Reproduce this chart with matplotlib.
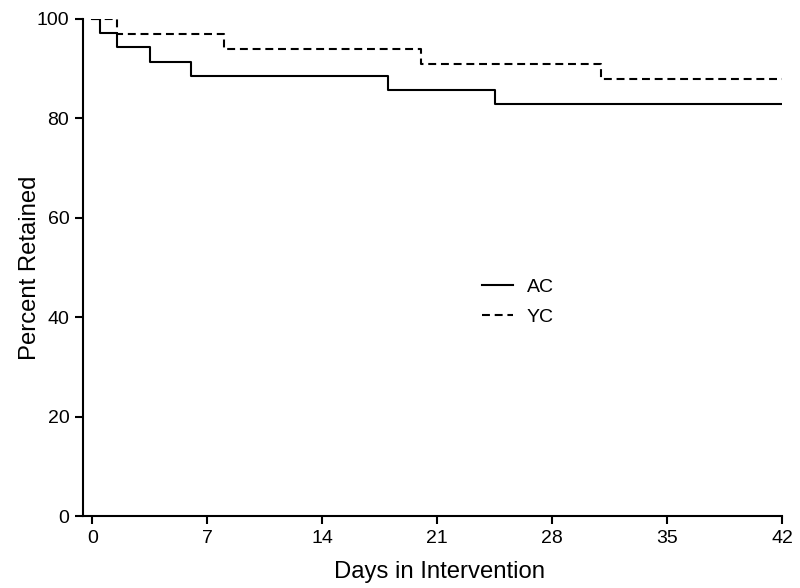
import matplotlib
matplotlib.use("Agg")
import matplotlib.pyplot as plt

plt.rcParams['font.family'] = ['Liberation Sans', 'DejaVu Sans']

# Data
ac_days = [0, 0.5, 1.5, 3.5, 6, 18, 24.5, 42]
ac_pct = [100, 97.1, 94.3, 91.4, 88.6, 85.7, 82.9, 82.9]
yc_days = [0, 1.5, 8, 20, 31, 42]
yc_pct = [100, 97.0, 93.9, 90.9, 87.9, 87.9]
xticks = [0, 7, 14, 21, 28, 35, 42]
yticks = [0, 20, 40, 60, 80, 100]

fig = plt.figure(figsize=(8, 5.88), dpi=100)
ax = fig.add_axes([0.104, 0.1224, 0.8735, 0.8453])

ax.step(ac_days, ac_pct, where='post', color='black', lw=1.5, label='AC')
ax.step(yc_days, yc_pct, where='post', color='black', lw=1.5,
        dashes=(3.8, 2.3), label='YC')

ax.set_xlim(-0.55, 42)
ax.set_ylim(0, 100)
ax.set_xticks(xticks)
ax.set_yticks(yticks)
for s in ['top', 'right']:
    ax.spines[s].set_visible(False)
for s in ['left', 'bottom']:
    ax.spines[s].set_linewidth(1.5)
ax.tick_params(direction='out', length=6, width=1.5, labelsize=14, pad=4)
ax.set_xlabel('Days in Intervention', fontsize=17.2, labelpad=10)
ax.xaxis.label.set_x(0.51)
ax.set_ylabel('Percent Retained', fontsize=17.2, labelpad=-3)

ax.legend(loc='upper left', bbox_to_anchor=(0.546, 0.514), frameon=False,
          fontsize=14, handlelength=1.6, handletextpad=0.7, labelspacing=0.65)

fig.savefig('out.png', dpi=100)
